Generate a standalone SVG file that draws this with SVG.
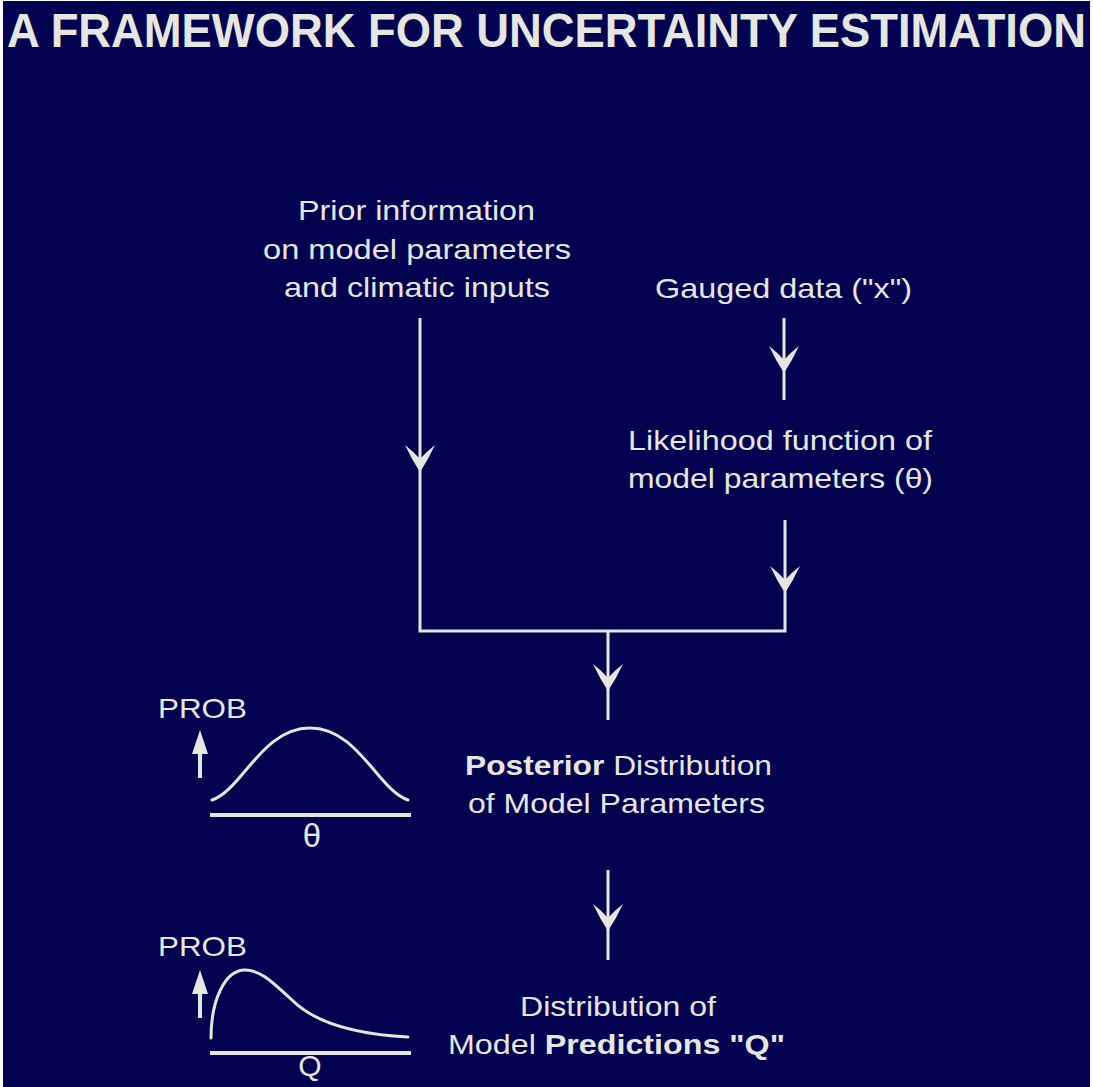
<svg xmlns="http://www.w3.org/2000/svg" xmlns:xlink="http://www.w3.org/1999/xlink" width="1093" height="1087" viewBox="0 0 1093 1087">
<style>
.t{font-family:"Liberation Sans",Arial,sans-serif;font-size:28px;fill:#e6e6e0}
.b{font-weight:bold}
.ttl{font-family:"Liberation Sans",Arial,sans-serif;font-weight:bold;font-size:45px;fill:#e6e6e0}
.ln{stroke:#e6e6e0;stroke-width:3;fill:none}
.cv{stroke:#e6e6e0;stroke-width:3;fill:none;stroke-linecap:round;stroke-linejoin:round}
.ax{stroke:#e6e6e0;stroke-width:4;fill:none}
.ah{fill:#e6e6e0}
</style>
<defs>
<path id="ah" d="M0,0 Q-8,-12 -15,-27 Q-6,-20 0,-13 Q6,-20 15,-27 Q8,-12 0,0 Z"/>
<path id="up" d="M0,0 L8,24 L2,24 L2,48 L-2,48 L-2,24 L-8,24 Z"/>
</defs>
<rect width="1093" height="1087" fill="#ffffff"/>
<rect x="3" y="1" width="1087" height="1086" fill="#020250"/>
<g id="title">
<text class="ttl" x="7" y="0" transform="translate(0,47) scale(1,1.08)" textLength="1079" lengthAdjust="spacingAndGlyphs">A FRAMEWORK FOR UNCERTAINTY ESTIMATION</text>
</g>
<g id="prior">
<text class="t" x="298" y="220" textLength="237" lengthAdjust="spacingAndGlyphs">Prior information</text>
<text class="t" x="263" y="259" textLength="308" lengthAdjust="spacingAndGlyphs">on model parameters</text>
<text class="t" x="284" y="297" textLength="266" lengthAdjust="spacingAndGlyphs">and climatic inputs</text>
</g>
<g id="gauged">
<text class="t" x="655" y="298" textLength="257" lengthAdjust="spacingAndGlyphs">Gauged data ("x")</text>
</g>
<g id="likelihood">
<text class="t" x="628" y="450" textLength="304" lengthAdjust="spacingAndGlyphs">Likelihood function of</text>
<text class="t" x="628" y="488" textLength="305" lengthAdjust="spacingAndGlyphs">model parameters (θ)</text>
</g>
<g id="posterior">
<text class="t" x="465" y="775" textLength="307" lengthAdjust="spacingAndGlyphs"><tspan class="b">Posterior</tspan> Distribution</text>
<text class="t" x="468" y="813" textLength="297" lengthAdjust="spacingAndGlyphs">of Model Parameters</text>
</g>
<g id="predictions">
<text class="t" x="520" y="1016" textLength="196" lengthAdjust="spacingAndGlyphs">Distribution of</text>
<text class="t" x="448" y="1054" textLength="337" lengthAdjust="spacingAndGlyphs">Model <tspan class="b">Predictions "Q"</tspan></text>
</g>
<g id="posterior-plot">
<text class="t" x="158" y="718" textLength="89" lengthAdjust="spacingAndGlyphs">PROB</text>
<use xlink:href="#up" href="#up" class="ah" x="200" y="730"/>
<path class="cv" d="M212,800 C242,790 262,728 310,728 C358,728 378,790 408,800"/>
<line class="ax" x1="210" y1="815" x2="411" y2="815"/>
<text class="t" x="312" y="847" text-anchor="middle" style="font-size:33px">θ</text>
</g>
<g id="predictions-plot">
<text class="t" x="158" y="956" textLength="89" lengthAdjust="spacingAndGlyphs">PROB</text>
<use xlink:href="#up" href="#up" class="ah" x="200" y="970"/>
<path class="cv" d="M211,1038 C211,1000 225,970 245,970 C262,970 275,985 292,1000 C312,1020 350,1034 408,1037"/>
<line class="ax" x1="210" y1="1053" x2="411" y2="1053"/>
<text class="t" x="310" y="1076" text-anchor="middle" style="font-size:30px">Q</text>
</g>
<g id="connectors">
<polyline class="ln" points="420,318 420,631 785,631 785,520"/>
<line class="ln" x1="784" y1="318" x2="784" y2="400"/>
<line class="ln" x1="608" y1="631" x2="608" y2="720"/>
<line class="ln" x1="608" y1="870" x2="608" y2="960"/>
<use xlink:href="#ah" href="#ah" class="ah" x="420" y="472"/>
<use xlink:href="#ah" href="#ah" class="ah" x="784" y="373"/>
<use xlink:href="#ah" href="#ah" class="ah" x="785" y="593"/>
<use xlink:href="#ah" href="#ah" class="ah" x="608" y="691"/>
<use xlink:href="#ah" href="#ah" class="ah" x="608" y="931"/>
</g>
</svg>
